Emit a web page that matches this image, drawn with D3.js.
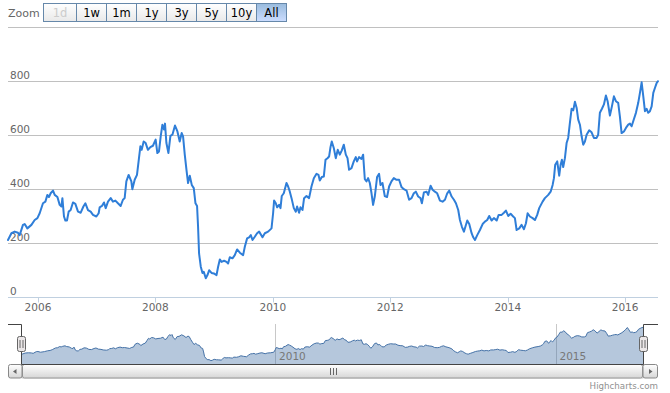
<!DOCTYPE html>
<html><head><meta charset="utf-8">
<script src="https://cdn.jsdelivr.net/npm/d3@7"></script>
<style>body{margin:0;background:#fff}svg{display:block;font-family:"DejaVu Sans",Verdana,sans-serif}</style>
</head><body><svg id="c" width="670" height="393"></svg>
<script>
// decimal years
const dates = [
2005.489,2005.547,2005.603,2005.659,2005.688,2005.744,2005.773,2005.819,2005.888,2005.944,2005.990,
2006.029,2006.085,2006.126,2006.160,2006.187,2006.216,2006.256,2006.285,2006.331,2006.370,2006.399,2006.416,2006.443,2006.467,2006.494,2006.523,2006.557,2006.596,2006.637,2006.682,2006.728,2006.774,2006.808,2006.852,2006.898,2006.937,2006.995,
2007.034,2007.051,2007.090,2007.125,2007.154,2007.193,2007.239,2007.278,2007.319,2007.363,2007.409,2007.448,2007.477,2007.506,2007.545,2007.591,2007.608,2007.648,2007.687,2007.721,2007.745,2007.767,2007.801,2007.835,2007.874,2007.915,2007.959,
2008.005,2008.034,2008.062,2008.091,2008.120,2008.147,2008.164,2008.188,2008.222,2008.256,2008.290,2008.334,2008.375,2008.414,2008.448,2008.471,2008.500,2008.529,2008.556,2008.585,2008.619,2008.653,2008.682,2008.709,2008.726,2008.743,2008.772,2008.801,2008.823,2008.857,2008.886,2008.914,2008.955,2008.994,
2009.040,2009.067,2009.096,2009.125,2009.169,2009.210,2009.237,2009.266,2009.312,2009.351,2009.391,2009.437,2009.493,2009.522,2009.561,2009.595,2009.624,2009.653,2009.692,2009.731,2009.766,2009.823,2009.863,2009.919,2009.977,
2010.004,2010.021,2010.050,2010.073,2010.106,2010.130,2010.152,2010.186,2010.232,2010.260,2010.289,2010.318,2010.357,2010.391,2010.413,2010.447,2010.471,2010.505,2010.532,2010.573,2010.617,2010.658,2010.698,2010.744,2010.778,2010.800,2010.834,2010.868,2010.897,2010.931,2010.958,2010.982,
2011.004,2011.038,2011.072,2011.106,2011.141,2011.175,2011.209,2011.243,2011.272,2011.299,2011.340,2011.379,2011.413,2011.435,2011.469,2011.510,2011.538,2011.567,2011.596,2011.623,2011.652,2011.681,2011.708,2011.737,2011.776,2011.810,2011.834,2011.868,2011.907,2011.946,2011.981,
2012.021,2012.061,2012.107,2012.151,2012.192,2012.231,2012.277,2012.321,2012.362,2012.401,2012.435,2012.475,2012.515,2012.538,2012.572,2012.618,2012.645,2012.686,2012.720,2012.759,2012.798,2012.845,2012.890,2012.930,2012.969,
2013.003,2013.044,2013.083,2013.117,2013.156,2013.185,2013.219,2013.253,2013.282,2013.310,2013.344,2013.384,2013.412,2013.441,2013.480,2013.526,2013.572,2013.611,2013.650,2013.684,2013.725,2013.764,2013.811,2013.845,2013.896,2013.935,2013.969,
2014.008,2014.049,2014.093,2014.122,2014.151,2014.196,2014.236,2014.276,2014.310,2014.339,2014.378,2014.424,2014.463,2014.502,2014.536,2014.594,2014.633,2014.690,2014.731,2014.765,2014.787,2014.809,2014.843,2014.877,2014.901,2014.923,2014.945,2014.974,
2015.003,2015.030,2015.059,2015.088,2015.116,2015.145,2015.174,2015.201,2015.230,2015.259,2015.286,2015.315,2015.344,2015.388,2015.429,2015.468,2015.514,2015.541,2015.570,2015.605,2015.639,2015.673,2015.702,2015.741,2015.775,2015.809,2015.843,2015.882,2015.911,2015.940,2015.980,
2016.014,2016.053,2016.082,2016.111,2016.138,2016.184,2016.223,2016.252,2016.281,2016.309,2016.337,2016.366,2016.393,2016.422,2016.451,2016.479,2016.508,2016.537,2016.559
];
const prices = [
213,238,244,240,231,269,272,256,269,287,294,
312,349,355,380,372,386,396,380,372,343,337,368,300,285,285,318,324,352,347,318,314,337,349,324,318,306,300,
312,334,339,352,331,355,368,355,359,349,339,362,368,430,454,430,401,436,454,516,560,547,578,572,547,557,562,
585,535,541,597,640,622,644,572,535,599,603,637,615,578,609,597,529,473,424,451,417,405,349,339,262,163,114,91,95,71,83,101,91,89,
83,114,141,132,136,132,126,149,145,157,178,166,157,188,219,223,231,213,225,238,244,223,238,244,256,
312,359,349,334,343,331,376,386,424,411,392,368,331,318,337,314,334,324,368,376,368,411,442,458,454,433,446,448,510,516,522,557,
578,554,516,547,529,545,566,529,516,473,479,504,520,504,520,513,529,438,430,442,424,386,343,374,446,458,417,424,376,372,411,
430,442,436,436,409,401,396,362,368,386,392,374,368,349,389,392,380,414,399,392,386,359,355,362,386,
396,374,362,349,324,287,262,244,265,285,272,238,223,213,231,250,272,281,287,302,285,294,285,306,306,314,322,
302,310,300,294,250,256,269,253,275,312,300,294,287,306,331,355,368,380,392,417,442,492,504,451,492,510,483,516,
572,591,647,699,693,725,702,659,640,597,566,578,603,619,612,591,591,603,684,699,715,748,727,674,708,745,727,721,671,609,615,
628,640,644,634,653,684,721,758,797,745,690,699,684,690,708,758,777,795,801
];
const yTicks = [0,200,400,600,800,1000];
const zoomButtons = ["1d","1w","1m","1y","3y","5y","10y","All"];
const selectedButton = "All";
const disabledButtons = ["1d"];

const toDate = t => { const yr=Math.floor(t); const a=Date.UTC(yr,0,1), b=Date.UTC(yr+1,0,1); return new Date(a+(t-yr)*(b-a)); };
const data = dates.map((t,i)=>({d:toDate(t), v:prices[i]}));

const svg = d3.select('#c');
const defs = svg.append('defs');
function grad(id, c1, c2){
  const g = defs.append('linearGradient').attr('id',id).attr('x1',0).attr('y1',0).attr('x2',0).attr('y2',1);
  g.append('stop').attr('offset','0').attr('stop-color',c1);
  g.append('stop').attr('offset','1').attr('stop-color',c2);
}
grad('gBtn','#ffffff','#e9e9e9');
grad('gSel','#99bbdd','#ccddff');
grad('gBar','#ffffff','#d6d6d6');
grad('gTrack','#eeeeee','#ffffff');

const L=8, R=658;
const x = d3.scaleUtc().domain(d3.extent(data,d=>d.d)).range([L,R]);
const y = d3.scaleLinear().domain([0,1000]).range([297.5,27.5]);

// gridlines
svg.append('g').selectAll('line').data(yTicks).join('line')
  .attr('x1',L).attr('x2',R).attr('y1',d=>y(d)).attr('y2',d=>y(d))
  .attr('stroke','#c0c0c0').attr('stroke-width',1);
svg.append('g').selectAll('text').data(yTicks.slice(0,-1)).join('text')
  .attr('x',10).attr('y',d=>y(d)-3).attr('font-size',10.5).attr('fill','#666').text(d=>d);

// x axis
svg.append('line').attr('x1',L).attr('x2',R).attr('y1',297.5).attr('y2',297.5).attr('stroke','#c0d0e0');
const xt = x.ticks(d3.utcYear.every(2));
svg.append('g').selectAll('line').data(xt).join('line')
  .attr('x1',d=>Math.round(x(d))+0.5).attr('x2',d=>Math.round(x(d))+0.5).attr('y1',297.5).attr('y2',302.5).attr('stroke','#c0d0e0');
svg.append('g').selectAll('text').data(xt).join('text')
  .attr('x',d=>x(d)).attr('y',311).attr('text-anchor','middle').attr('font-size',10.5).attr('fill','#666')
  .text(d=>d3.utcFormat('%Y')(d));

// series
svg.append('path').datum(data)
  .attr('d',d3.line().x(d=>x(d.d)).y(d=>y(d.v)))
  .attr('fill','none').attr('stroke','#2f7ed8').attr('stroke-width',2).attr('stroke-linejoin','round').attr('stroke-linecap','round');

// range selector
svg.append('text').attr('x',8).attr('y',17).attr('font-size',11).attr('fill','#666').text('Zoom');
const bw = zoomButtons.map((b,i)=> i===0?33:30);
let bx = 43.5;
zoomButtons.forEach((b,i)=>{
  const g = svg.append('g');
  g.append('rect').attr('x',bx).attr('y',3.5).attr('width',bw[i]).attr('height',18)
    .attr('fill', b===selectedButton?'url(#gSel)':'url(#gBtn)').attr('stroke','#6688aa');
  g.append('text').attr('x',bx+bw[i]/2).attr('y',16.5).attr('text-anchor','middle').attr('font-size',11.5)
    .attr('fill', disabledButtons.includes(b)?'#cccccc':'#000').text(b);
  bx += bw[i];
});

// navigator
const NL=22, NR=643, NT=324, NB=364;
const nx = d3.scaleUtc().domain(x.domain()).range([NL,NR]);
const [mn,mx] = d3.extent(prices); const pad=(mx-mn)*0.1;
const ny = d3.scaleLinear().domain([mn-pad,mx+pad]).range([NB,NT]);
const nt = nx.ticks(d3.utcYear.every(5));
svg.append('g').selectAll('line').data(nt).join('line')
  .attr('x1',d=>Math.round(nx(d))+0.5).attr('x2',d=>Math.round(nx(d))+0.5).attr('y1',NT).attr('y2',NB).attr('stroke','#c8c8c8');
svg.append('path').datum(data)
  .attr('d',d3.area().x(d=>nx(d.d)).y0(NB).y1(d=>ny(d.v)))
  .attr('fill','#4572a7').attr('fill-opacity',0.4);
svg.append('path').datum(data)
  .attr('d',d3.line().x(d=>nx(d.d)).y(d=>ny(d.v)))
  .attr('fill','none').attr('stroke','#4572a7').attr('stroke-width',1);
svg.append('g').selectAll('text').data(nt).join('text')
  .attr('x',d=>nx(d)+4).attr('y',NB-4).attr('font-size',10.5).attr('fill','#777').text(d=>d3.utcFormat('%Y')(d));

// scrollbar
svg.append('rect').attr('x',NL).attr('y',NB+0.5).attr('width',NR-NL).attr('height',13.5).attr('fill','url(#gTrack)').attr('stroke','#cccccc');
svg.append('rect').attr('x',NL+0.5).attr('y',NB+0.5).attr('width',NR-NL-1).attr('height',13.5).attr('rx',2)
  .attr('fill','url(#gBar)').attr('stroke','#999');
const gc=(NL+NR)/2;
[-3,0,3].forEach(o=>svg.append('line').attr('x1',Math.round(gc+o)+0.5).attr('x2',Math.round(gc+o)+0.5)
  .attr('y1',NB+4).attr('y2',NB+11).attr('stroke','#666'));
// buttons
svg.append('rect').attr('x',L+0.5).attr('y',NB+0.5).attr('width',NL-L-0.5).attr('height',13.5).attr('rx',2).attr('fill','url(#gBar)').attr('stroke','#888');
svg.append('rect').attr('x',NR).attr('y',NB+0.5).attr('width',R-NR-0.5).attr('height',13.5).attr('rx',2).attr('fill','url(#gBar)').attr('stroke','#888');
svg.append('path').attr('d',`M${(L+NL)/2-2},${NB+7.5} L${(L+NL)/2+1.5},${NB+5} L${(L+NL)/2+1.5},${NB+10} Z`).attr('fill','#666');
svg.append('path').attr('d',`M${(NR+R)/2+2},${NB+7.5} L${(NR+R)/2-1.5},${NB+5} L${(NR+R)/2-1.5},${NB+10} Z`).attr('fill','#666');

// navigator outline
svg.append('path').attr('d',`M${L},${NT+0.5} H${NL-0.5} V${NB+0.5} H${NR+0.5} V${NT+0.5} H${R}`)
  .attr('fill','none').attr('stroke','#444').attr('stroke-width',1);
// handles
[NL-0.5, NR+0.5].forEach(cx=>{
  svg.append('rect').attr('x',cx-4).attr('y',336.5).attr('width',8).attr('height',15).attr('rx',2)
    .attr('fill','#ebe7e8').attr('stroke','#666');
  [-1.5,1.5].forEach(o=>svg.append('line').attr('x1',cx+o).attr('x2',cx+o).attr('y1',340).attr('y2',348).attr('stroke','#666'));
});

// credits
svg.append('text').attr('x',R).attr('y',389).attr('text-anchor','end').attr('font-size',8.7).attr('fill','#909090').text('Highcharts.com');
</script></body></html>
